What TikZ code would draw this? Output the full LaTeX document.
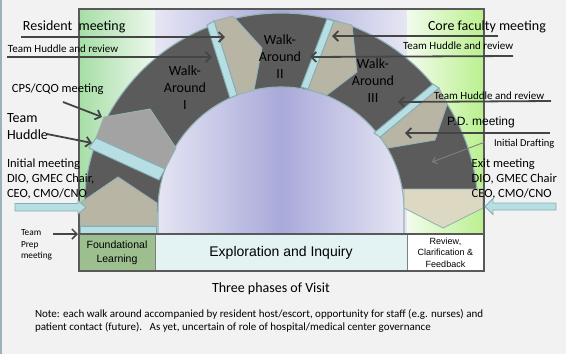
\documentclass[tikz,border=0pt]{standalone}
\usepackage{fontspec}
\setmainfont{Carlito}
\newfontfamily\arialfont{Liberation Sans}
\usetikzlibrary{arrows.meta}

\definecolor{pagebg}{HTML}{F2F2F2}
\definecolor{edgeline}{HTML}{9DB1B9}
\definecolor{framecol}{HTML}{595959}
\definecolor{archdark}{HTML}{5B5B5B}
\definecolor{archedge}{HTML}{93B4B6}
\definecolor{stripfill}{HTML}{B7DFE3}
\definecolor{stripedge}{HTML}{84AEB2}
\definecolor{beige}{HTML}{B9B5A4}
\definecolor{beigelight}{HTML}{DDD8C2}
\definecolor{greyseg}{HTML}{A3A3A3}
\definecolor{arrowcol}{HTML}{454545}
\definecolor{greenL}{HTML}{A6DEA6}
\definecolor{greenR}{HTML}{EDF8ED}
\definecolor{lavEdge}{HTML}{E6E6F4}
\definecolor{lavMid}{HTML}{A9A9DA}
\definecolor{limeL}{HTML}{F2FCEC}
\definecolor{limeR}{HTML}{BAF08E}
\definecolor{foundfill}{HTML}{9DBF8F}
\definecolor{explorefill}{HTML}{E3F3F4}
\definecolor{boxline}{HTML}{7F7F7F}

% multi-line labels are placed by the baseline of their last line
\begin{document}
\begin{tikzpicture}[x=1pt,y=-1pt,
  every node/.style={inner sep=0pt, outer sep=0pt},
  lbl/.style={anchor=base west, text=black, align=left},
  bigtxt/.style={font=\fontsize{14}{17}\selectfont},
  midtxt/.style={font=\fontsize{12.5}{15}\selectfont},
  smalltxt/.style={font=\fontsize{11}{13}\selectfont},
  walktxt/.style={anchor=base, align=center, font=\fontsize{14}{17.3}\selectfont},
  seg/.style={draw=archedge, line width=0.9pt},
  strip/.style={fill=stripfill, draw=stripedge, line width=0.9pt},
  ptr/.style={draw=arrowcol, line width=1.8pt, -{Straight Barb[length=5pt,width=10pt]}},
  thinptr/.style={draw=gray, line width=0.9pt, -{Straight Barb[length=4pt,width=7pt]}},
  phasebox/.style={draw=boxline, line width=0.9pt, anchor=north west, align=center}
]
\useasboundingbox (0,0) rectangle (566,354);
\fill[pagebg] (0,0) rectangle (566,354);
\fill[edgeline] (0,0) rectangle (2,354);

% phase backgrounds
\shade[left color=greenL, right color=greenR] (79,9) rectangle (155,234);
\shade[left color=lavEdge, right color=lavEdge, middle color=lavMid] (155,9) rectangle (407,234);
\shade[left color=limeL, right color=limeR] (407,9) rectangle (484,234);

% the arch
\coordinate (c) at (281,210);
\begin{scope}
  \clip (79,9) -- (484,9) -- (484,189) -- (281,189) -- (281,212) -- (79,212) -- cycle;
  \fill[archdark, even odd rule] (c) circle[radius=197] (c) circle[radius=123];
  \draw[archedge, line width=1.1pt] (c) circle[radius=197];
\end{scope}
\draw[archedge, line width=1.1pt] (158,234) -- (158,210) arc[start angle=180, end angle=360, radius=123] -- (404,234);

% segments along the arch
\fill[beige, seg] (80,226) -- (80,203) -- (118,177) -- (157,203) -- (157,226) -- cycle;
\fill[strip] (80,226.5) rectangle (156,233);
\fill[greyseg, seg] (104,117) -- (150,109) -- (176,148) -- (165,169) -- (96,138) -- cycle;
\fill[strip] (96,138) -- (89,148) -- (159,180) -- (165,169) -- cycle;
\fill[beige, seg] (214,21) -- (233,16) -- (262,48) -- (254,90) -- (237,95) -- cycle;
\fill[strip] (207,25) -- (214,21) -- (237,95) -- (230,98) -- cycle;
\fill[beige, seg] (334,21) -- (352,25) -- (357,72) -- (327,95) -- (308,89) -- cycle;
\fill[strip] (327,19) -- (334,21) -- (308,89) -- (301,87) -- cycle;
\fill[beige, seg] (439,88) -- (447,105) -- (435,140) -- (388,148) -- (380,137) -- cycle;
\fill[strip] (433,84) -- (439,88) -- (380,137) -- (374,133) -- cycle;
\fill[beigelight, seg] (404,189) -- (483,189) -- (483,208) -- (443,228) -- (404,208) -- cycle;

% walk-around labels
\node[walktxt] (wa1) at (185,109.6) {Walk-\\Around\\I};
\node[walktxt] (wa2) at (280,78.9) {Walk-\\Around\\II};
\node[walktxt] (wa3) at (373,102.9) {Walk-\\Around\\III};

% phase boxes and frame
\node[phasebox, fill=foundfill, minimum width=76pt, minimum height=37pt,
      font=\arialfont\fontsize{10.5}{14}\selectfont] (found) at (79,234) {Foundational\\Learning};
\node[phasebox, fill=explorefill, minimum width=252pt, minimum height=37pt,
      font=\arialfont\fontsize{14}{17}\selectfont] (explore) at (155,234) {Exploration and Inquiry};
\node[phasebox, fill=white, minimum width=77pt, minimum height=37pt,
      font=\arialfont\fontsize{9}{11.3}\selectfont] (review) at (407,234) {Review,\\Clarification \&\\Feedback};
\draw[framecol, line width=1.8pt] (79,9) rectangle (484,271);
\draw[framecol, line width=1.8pt] (79,234) -- (484,234);

% left-hand labels
\node[lbl, bigtxt] (resident) at (23,30) {Resident\ \ meeting};
\node[lbl, smalltxt] (huddleA) at (8,52.5) {Team Huddle and review};
\node[lbl, midtxt] (cps) at (12,92.3) {CPS/CQO meeting};
\node[lbl, font=\fontsize{14}{17}\selectfont] (huddle) at (7,139.3) {Team\\Huddle};
\node[lbl, midtxt] (initial) at (7,197.3) {Initial meeting\\DIO, GMEC Chair,\\CEO, CMO/CNO};
\node[lbl, font=\fontsize{9.3}{11.5}\selectfont] (prep) at (21,258.7) {Team\\Prep\\meeting};

% right-hand labels
\node[lbl, bigtxt] (core) at (428,30) {Core faculty meeting};
\node[lbl, smalltxt] (huddleB) at (403,49.7) {Team Huddle and review};
\node[lbl, smalltxt] (huddleC) at (434,99.3) {Team Huddle and review};
\node[lbl, font=\arialfont\fontsize{12}{14}\selectfont] (pd) at (447,125) {P.D. meeting};
\node[lbl, font=\fontsize{10.5}{12}\selectfont] (drafting) at (494,146.7) {Initial Drafting};
\node[lbl, midtxt] (exit) at (471.7,197) {Exit meeting\\DIO, GMEC Chair\\CEO, CMO/CNO};

% connector end points
\coordinate (resA) at (21,37);    \coordinate (resB) at (225,37);
\coordinate (hA1) at (7,57);      \coordinate (hA2) at (212,57);
\coordinate (coreA) at (498,36);  \coordinate (coreB) at (332,36);
\coordinate (hB1) at (513,56);    \coordinate (hB2) at (310,57);
\coordinate (hC1) at (551,101);   \coordinate (hC2) at (398,102);
\coordinate (pdA) at (550,133);   \coordinate (pdB) at (405,133);
\coordinate (drA) at (485,142);   \coordinate (drB) at (432,162);
\coordinate (cpsA) at (63,102);   \coordinate (cpsB) at (102,117);
\coordinate (hudA) at (47,134);   \coordinate (hudB) at (92,143);
\coordinate (prepA) at (53,234);  \coordinate (prepB) at (78,234);

\draw[ptr] (resA) -- (resB);
\draw[ptr] (hA1) -- (hA2);
\draw[ptr] (coreA) -- (coreB);
\draw[ptr] (hB1) -- (hB2);
\draw[ptr] (hC1) -- (hC2);
\draw[ptr] (pdA) -- (pdB);
\draw[thinptr] (drA) -- (drB);
\draw[ptr] (cpsA) -- (cpsB);
\draw[ptr] (hudA) -- (hudB);
\draw[ptr, line width=1.5pt] (prepA) -- (prepB);

% entry and exit block arrows
\fill[strip] (15,203.5) -- (78,203.5) -- (78,200.5) -- (86,207.3) -- (78,214) -- (78,211) -- (15,211) -- cycle;
\fill[strip] (556,203) -- (493,203) -- (493,198.5) -- (485,206.5) -- (493,214.5) -- (493,210) -- (556,210) -- cycle;

% caption and note
\node[lbl, font=\fontsize{14}{17}\selectfont] (caption) at (212,292.7) {Three phases of Visit};
\node[lbl, font=\fontsize{11}{12.3}\selectfont] (note) at (35,330)
  {Note: each walk around accompanied by resident host/escort, opportunity for staff (e.g. nurses) and\\
   patient contact (future).\ \ \ As yet, uncertain of role of hospital/medical center governance};
\end{tikzpicture}
\end{document}
